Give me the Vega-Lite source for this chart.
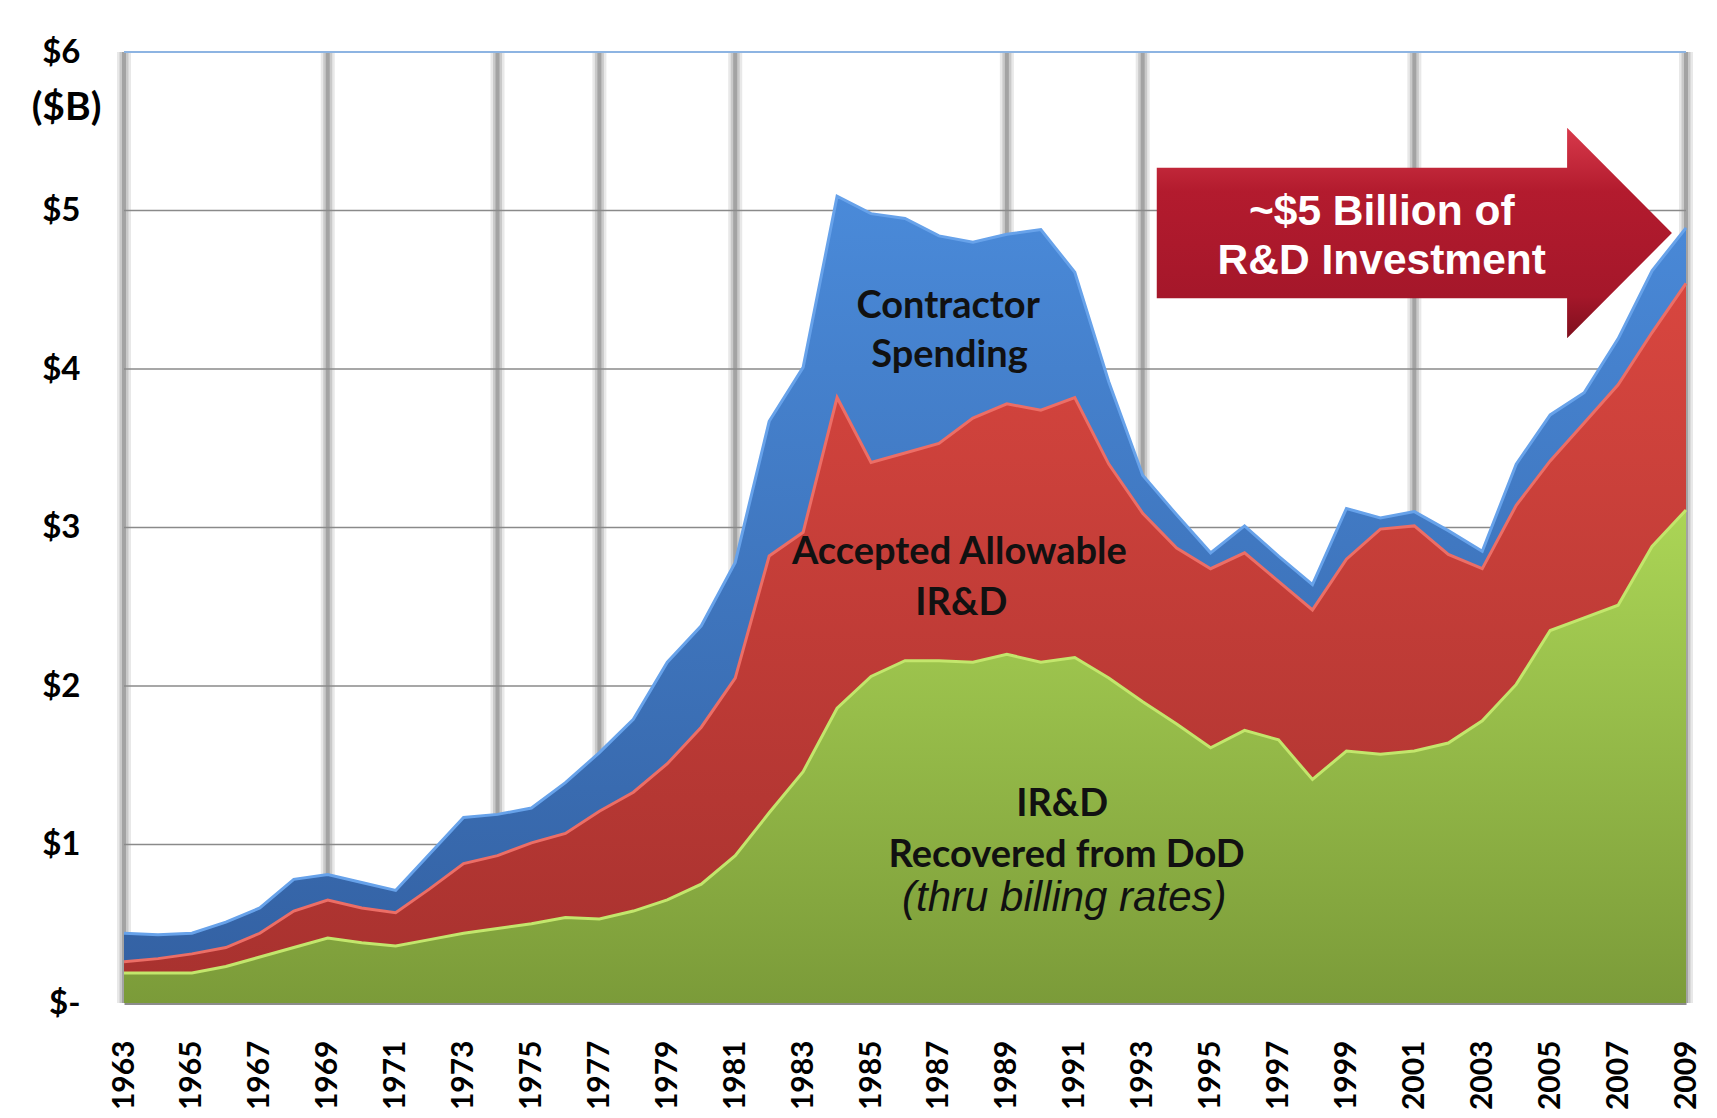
{
  "$schema": "https://vega.github.io/schema/vega-lite/v6.json",
  "width": 1562,
  "height": 951,
  "autosize": {"type": "none"},
  "padding": {"left": 124, "top": 52, "right": 31, "bottom": 115},
  "background": "white",
  "config": {
    "view": {"stroke": null},
    "font": "Lato",
    "axis": {"grid": false, "ticks": false, "labelColor": "black", "labelFont": "Lato", "labelFontWeight": "bold", "titleColor": "black"},
    "axisX": {"labelAngle": -90, "labelAlign": "right", "labelBaseline": "middle", "labelFontSize": 30, "labelPadding": 37, "domainColor": "#8c8c8c", "domainWidth": 3, "labelOverlap": false},
    "axisY": {"labelFontSize": 33, "labelPadding": 44, "domain": false}
  },
  "datasets": {
    "ird": [
      {"year":1963,"series":"IR&D Recovered from DoD","amount":0.19},{"year":1963,"series":"Accepted Allowable IR&D","amount":0.07},{"year":1963,"series":"Contractor Spending","amount":0.18},
      {"year":1964,"series":"IR&D Recovered from DoD","amount":0.19},{"year":1964,"series":"Accepted Allowable IR&D","amount":0.09},{"year":1964,"series":"Contractor Spending","amount":0.15},
      {"year":1965,"series":"IR&D Recovered from DoD","amount":0.19},{"year":1965,"series":"Accepted Allowable IR&D","amount":0.12},{"year":1965,"series":"Contractor Spending","amount":0.13},
      {"year":1966,"series":"IR&D Recovered from DoD","amount":0.23},{"year":1966,"series":"Accepted Allowable IR&D","amount":0.12},{"year":1966,"series":"Contractor Spending","amount":0.16},
      {"year":1967,"series":"IR&D Recovered from DoD","amount":0.29},{"year":1967,"series":"Accepted Allowable IR&D","amount":0.15},{"year":1967,"series":"Contractor Spending","amount":0.16},
      {"year":1968,"series":"IR&D Recovered from DoD","amount":0.35},{"year":1968,"series":"Accepted Allowable IR&D","amount":0.23},{"year":1968,"series":"Contractor Spending","amount":0.20},
      {"year":1969,"series":"IR&D Recovered from DoD","amount":0.41},{"year":1969,"series":"Accepted Allowable IR&D","amount":0.24},{"year":1969,"series":"Contractor Spending","amount":0.16},
      {"year":1970,"series":"IR&D Recovered from DoD","amount":0.38},{"year":1970,"series":"Accepted Allowable IR&D","amount":0.22},{"year":1970,"series":"Contractor Spending","amount":0.16},
      {"year":1971,"series":"IR&D Recovered from DoD","amount":0.36},{"year":1971,"series":"Accepted Allowable IR&D","amount":0.21},{"year":1971,"series":"Contractor Spending","amount":0.14},
      {"year":1972,"series":"IR&D Recovered from DoD","amount":0.40},{"year":1972,"series":"Accepted Allowable IR&D","amount":0.32},{"year":1972,"series":"Contractor Spending","amount":0.22},
      {"year":1973,"series":"IR&D Recovered from DoD","amount":0.44},{"year":1973,"series":"Accepted Allowable IR&D","amount":0.44},{"year":1973,"series":"Contractor Spending","amount":0.29},
      {"year":1974,"series":"IR&D Recovered from DoD","amount":0.47},{"year":1974,"series":"Accepted Allowable IR&D","amount":0.46},{"year":1974,"series":"Contractor Spending","amount":0.26},
      {"year":1975,"series":"IR&D Recovered from DoD","amount":0.50},{"year":1975,"series":"Accepted Allowable IR&D","amount":0.51},{"year":1975,"series":"Contractor Spending","amount":0.22},
      {"year":1976,"series":"IR&D Recovered from DoD","amount":0.54},{"year":1976,"series":"Accepted Allowable IR&D","amount":0.53},{"year":1976,"series":"Contractor Spending","amount":0.32},
      {"year":1977,"series":"IR&D Recovered from DoD","amount":0.53},{"year":1977,"series":"Accepted Allowable IR&D","amount":0.68},{"year":1977,"series":"Contractor Spending","amount":0.37},
      {"year":1978,"series":"IR&D Recovered from DoD","amount":0.58},{"year":1978,"series":"Accepted Allowable IR&D","amount":0.75},{"year":1978,"series":"Contractor Spending","amount":0.46},
      {"year":1979,"series":"IR&D Recovered from DoD","amount":0.65},{"year":1979,"series":"Accepted Allowable IR&D","amount":0.86},{"year":1979,"series":"Contractor Spending","amount":0.64},
      {"year":1980,"series":"IR&D Recovered from DoD","amount":0.75},{"year":1980,"series":"Accepted Allowable IR&D","amount":0.99},{"year":1980,"series":"Contractor Spending","amount":0.64},
      {"year":1981,"series":"IR&D Recovered from DoD","amount":0.93},{"year":1981,"series":"Accepted Allowable IR&D","amount":1.12},{"year":1981,"series":"Contractor Spending","amount":0.73},
      {"year":1982,"series":"IR&D Recovered from DoD","amount":1.20},{"year":1982,"series":"Accepted Allowable IR&D","amount":1.62},{"year":1982,"series":"Contractor Spending","amount":0.85},
      {"year":1983,"series":"IR&D Recovered from DoD","amount":1.46},{"year":1983,"series":"Accepted Allowable IR&D","amount":1.51},{"year":1983,"series":"Contractor Spending","amount":1.04},
      {"year":1984,"series":"IR&D Recovered from DoD","amount":1.86},{"year":1984,"series":"Accepted Allowable IR&D","amount":1.96},{"year":1984,"series":"Contractor Spending","amount":1.27},
      {"year":1985,"series":"IR&D Recovered from DoD","amount":2.06},{"year":1985,"series":"Accepted Allowable IR&D","amount":1.35},{"year":1985,"series":"Contractor Spending","amount":1.57},
      {"year":1986,"series":"IR&D Recovered from DoD","amount":2.16},{"year":1986,"series":"Accepted Allowable IR&D","amount":1.31},{"year":1986,"series":"Contractor Spending","amount":1.48},
      {"year":1987,"series":"IR&D Recovered from DoD","amount":2.16},{"year":1987,"series":"Accepted Allowable IR&D","amount":1.37},{"year":1987,"series":"Contractor Spending","amount":1.31},
      {"year":1988,"series":"IR&D Recovered from DoD","amount":2.15},{"year":1988,"series":"Accepted Allowable IR&D","amount":1.54},{"year":1988,"series":"Contractor Spending","amount":1.11},
      {"year":1989,"series":"IR&D Recovered from DoD","amount":2.20},{"year":1989,"series":"Accepted Allowable IR&D","amount":1.58},{"year":1989,"series":"Contractor Spending","amount":1.07},
      {"year":1990,"series":"IR&D Recovered from DoD","amount":2.15},{"year":1990,"series":"Accepted Allowable IR&D","amount":1.59},{"year":1990,"series":"Contractor Spending","amount":1.14},
      {"year":1991,"series":"IR&D Recovered from DoD","amount":2.18},{"year":1991,"series":"Accepted Allowable IR&D","amount":1.64},{"year":1991,"series":"Contractor Spending","amount":0.79},
      {"year":1992,"series":"IR&D Recovered from DoD","amount":2.05},{"year":1992,"series":"Accepted Allowable IR&D","amount":1.35},{"year":1992,"series":"Contractor Spending","amount":0.52},
      {"year":1993,"series":"IR&D Recovered from DoD","amount":1.90},{"year":1993,"series":"Accepted Allowable IR&D","amount":1.19},{"year":1993,"series":"Contractor Spending","amount":0.24},
      {"year":1994,"series":"IR&D Recovered from DoD","amount":1.76},{"year":1994,"series":"Accepted Allowable IR&D","amount":1.11},{"year":1994,"series":"Contractor Spending","amount":0.21},
      {"year":1995,"series":"IR&D Recovered from DoD","amount":1.61},{"year":1995,"series":"Accepted Allowable IR&D","amount":1.13},{"year":1995,"series":"Contractor Spending","amount":0.10},
      {"year":1996,"series":"IR&D Recovered from DoD","amount":1.72},{"year":1996,"series":"Accepted Allowable IR&D","amount":1.12},{"year":1996,"series":"Contractor Spending","amount":0.17},
      {"year":1997,"series":"IR&D Recovered from DoD","amount":1.66},{"year":1997,"series":"Accepted Allowable IR&D","amount":1.00},{"year":1997,"series":"Contractor Spending","amount":0.16},
      {"year":1998,"series":"IR&D Recovered from DoD","amount":1.41},{"year":1998,"series":"Accepted Allowable IR&D","amount":1.07},{"year":1998,"series":"Contractor Spending","amount":0.16},
      {"year":1999,"series":"IR&D Recovered from DoD","amount":1.59},{"year":1999,"series":"Accepted Allowable IR&D","amount":1.21},{"year":1999,"series":"Contractor Spending","amount":0.32},
      {"year":2000,"series":"IR&D Recovered from DoD","amount":1.57},{"year":2000,"series":"Accepted Allowable IR&D","amount":1.42},{"year":2000,"series":"Contractor Spending","amount":0.07},
      {"year":2001,"series":"IR&D Recovered from DoD","amount":1.59},{"year":2001,"series":"Accepted Allowable IR&D","amount":1.42},{"year":2001,"series":"Contractor Spending","amount":0.09},
      {"year":2002,"series":"IR&D Recovered from DoD","amount":1.64},{"year":2002,"series":"Accepted Allowable IR&D","amount":1.19},{"year":2002,"series":"Contractor Spending","amount":0.15},
      {"year":2003,"series":"IR&D Recovered from DoD","amount":1.78},{"year":2003,"series":"Accepted Allowable IR&D","amount":0.96},{"year":2003,"series":"Contractor Spending","amount":0.11},
      {"year":2004,"series":"IR&D Recovered from DoD","amount":2.01},{"year":2004,"series":"Accepted Allowable IR&D","amount":1.13},{"year":2004,"series":"Contractor Spending","amount":0.26},
      {"year":2005,"series":"IR&D Recovered from DoD","amount":2.35},{"year":2005,"series":"Accepted Allowable IR&D","amount":1.07},{"year":2005,"series":"Contractor Spending","amount":0.29},
      {"year":2006,"series":"IR&D Recovered from DoD","amount":2.43},{"year":2006,"series":"Accepted Allowable IR&D","amount":1.23},{"year":2006,"series":"Contractor Spending","amount":0.19},
      {"year":2007,"series":"IR&D Recovered from DoD","amount":2.51},{"year":2007,"series":"Accepted Allowable IR&D","amount":1.39},{"year":2007,"series":"Contractor Spending","amount":0.29},
      {"year":2008,"series":"IR&D Recovered from DoD","amount":2.88},{"year":2008,"series":"Accepted Allowable IR&D","amount":1.35},{"year":2008,"series":"Contractor Spending","amount":0.39},
      {"year":2009,"series":"IR&D Recovered from DoD","amount":3.11},{"year":2009,"series":"Accepted Allowable IR&D","amount":1.43},{"year":2009,"series":"Contractor Spending","amount":0.35}
    ],
    "bars": [{"year":1963},{"year":1969},{"year":1974},{"year":1977},{"year":1981},{"year":1989},{"year":1993},{"year":2001},{"year":2009}],
    "grid": [{"value":1},{"value":2},{"value":3},{"value":4},{"value":5}],
    "top": [{"value":6}],
    "areaLabels": [
      {"text":"Contractor","year":1987.27,"value":4.39},
      {"text":"Spending","year":1987.31,"value":4.08},
      {"text":"Accepted Allowable","year":1987.6,"value":2.84},
      {"text":"IR&D","year":1987.66,"value":2.52},
      {"text":"IR&D","year":1990.63,"value":1.25},
      {"text":"Recovered from DoD","year":1990.76,"value":0.93}
    ],
    "noteLabels": [{"text":"(thru billing rates)","year":1990.69,"value":0.66}],
    "arrow": [{"year":2001.0,"value":4.858}],
    "arrowLabels": [
      {"text":"~$5 Billion of","year":2000.04,"value":4.99},
      {"text":"R&D Investment","year":2000.04,"value":4.68}
    ]
  },
  "layer": [
    {
      "data": {"name": "bars"},
      "mark": {"type": "rule", "strokeWidth": 14, "color": "#e8e8e8"},
      "encoding": {
        "x": {"field": "year", "type": "quantitative", "scale": {"domain": [1963, 2009], "nice": false, "zero": false},
          "axis": {"values": [1963,1965,1967,1969,1971,1973,1975,1977,1979,1981,1983,1985,1987,1989,1991,1993,1995,1997,1999,2001,2003,2005,2007,2009],
            "format": "d", "title": null}}
      }
    },
    {
      "data": {"name": "bars"},
      "mark": {"type": "rule", "strokeWidth": 9, "color": "#c9c9c9"},
      "encoding": {"x": {"field": "year", "type": "quantitative", "scale": {"domain": [1963, 2009], "nice": false, "zero": false}}}
    },
    {
      "data": {"name": "bars"},
      "mark": {"type": "rule", "strokeWidth": 4, "color": "#a3a3a3"},
      "encoding": {"x": {"field": "year", "type": "quantitative", "scale": {"domain": [1963, 2009], "nice": false, "zero": false}}}
    },
    {
      "data": {"name": "grid"},
      "mark": {"type": "rule", "strokeWidth": 1.6, "color": "#8a8a8a"},
      "encoding": {"y": {"field": "value", "type": "quantitative", "scale": {"domain": [0, 6], "nice": false}}}
    },
    {
      "data": {"name": "top"},
      "mark": {"type": "rule", "strokeWidth": 2, "color": "#8db4e2"},
      "encoding": {"y": {"field": "value", "type": "quantitative", "scale": {"domain": [0, 6], "nice": false}}}
    },
    {
      "data": {"name": "ird"},
      "transform": [{"stack": "amount", "groupby": ["year"], "as": ["lo", "hi"]}, {"filter": "datum.series == 'IR&D Recovered from DoD'"}],
      "mark": {"type": "area", "fill": {"gradient": "linear", "x1": 0, "y1": 0, "x2": 0, "y2": 1, "stops": [{"offset": 0, "color": "#abd556"}, {"offset": 1, "color": "#7b9b39"}]}},
      "encoding": {
        "x": {"field": "year", "type": "quantitative", "scale": {"domain": [1963, 2009], "nice": false, "zero": false}},
        "y": {"field": "hi", "type": "quantitative", "scale": {"domain": [0, 6], "nice": false},
          "axis": {"values": [0,1,2,3,4,5,6], "labelExpr": "datum.value == 0 ? '$-' : '$' + datum.value",
            "title": "($B)", "titleAngle": 0, "titleFont": "Lato", "titleFontSize": 39, "titleFontWeight": "bold",
            "titleX": -58, "titleY": 55, "titleAlign": "center", "titleBaseline": "middle"}},
        "y2": {"field": "lo"}
      }
    },
    {
      "data": {"name": "ird"},
      "transform": [{"stack": "amount", "groupby": ["year"], "as": ["lo", "hi"]}, {"filter": "datum.series == 'Accepted Allowable IR&D'"}],
      "mark": {"type": "area", "fill": {"gradient": "linear", "x1": 0, "y1": 0, "x2": 0, "y2": 1, "stops": [{"offset": 0, "color": "#d8463f"}, {"offset": 1, "color": "#a9322f"}]}},
      "encoding": {
        "x": {"field": "year", "type": "quantitative", "scale": {"domain": [1963, 2009], "nice": false, "zero": false}},
        "y": {"field": "hi", "type": "quantitative", "scale": {"domain": [0, 6], "nice": false}},
        "y2": {"field": "lo"}
      }
    },
    {
      "data": {"name": "ird"},
      "transform": [{"stack": "amount", "groupby": ["year"], "as": ["lo", "hi"]}, {"filter": "datum.series == 'Contractor Spending'"}],
      "mark": {"type": "area", "fill": {"gradient": "linear", "x1": 0, "y1": 0, "x2": 0, "y2": 1, "stops": [{"offset": 0, "color": "#4a8ad9"}, {"offset": 1, "color": "#3462a4"}]}},
      "encoding": {
        "x": {"field": "year", "type": "quantitative", "scale": {"domain": [1963, 2009], "nice": false, "zero": false}},
        "y": {"field": "hi", "type": "quantitative", "scale": {"domain": [0, 6], "nice": false}},
        "y2": {"field": "lo"}
      }
    },
    {
      "data": {"name": "ird"},
      "transform": [{"stack": "amount", "groupby": ["year"], "as": ["lo", "hi"]}],
      "mark": {"type": "line", "strokeWidth": 3},
      "encoding": {
        "x": {"field": "year", "type": "quantitative", "scale": {"domain": [1963, 2009], "nice": false, "zero": false}},
        "y": {"field": "hi", "type": "quantitative", "scale": {"domain": [0, 6], "nice": false}},
        "color": {"field": "series", "type": "nominal", "legend": null,
          "scale": {"domain": ["IR&D Recovered from DoD", "Accepted Allowable IR&D", "Contractor Spending"], "range": ["#c3e66c", "#ec6e66", "#67a2ea"]}}
      }
    },
    {
      "data": {"name": "areaLabels"},
      "mark": {"type": "text", "font": "Lato", "fontWeight": "bold", "fontSize": 38, "color": "#111111", "align": "center", "baseline": "middle"},
      "encoding": {
        "x": {"field": "year", "type": "quantitative", "scale": {"domain": [1963, 2009], "nice": false, "zero": false}},
        "y": {"field": "value", "type": "quantitative", "scale": {"domain": [0, 6], "nice": false}},
        "text": {"field": "text"}
      }
    },
    {
      "data": {"name": "noteLabels"},
      "mark": {"type": "text", "font": "Liberation Sans", "fontStyle": "italic", "fontSize": 42, "color": "#111111", "align": "center", "baseline": "middle"},
      "encoding": {
        "x": {"field": "year", "type": "quantitative", "scale": {"domain": [1963, 2009], "nice": false, "zero": false}},
        "y": {"field": "value", "type": "quantitative", "scale": {"domain": [0, 6], "nice": false}},
        "text": {"field": "text"}
      }
    },
    {
      "data": {"name": "arrow"},
      "mark": {"type": "point", "shape": "M-1,-0.253L0.593,-0.253L0.593,-0.409L1,0L0.593,0.409L0.593,0.253L-1,0.253Z",
        "size": 265400, "filled": true, "opacity": 1, "fillOpacity": 1, "strokeWidth": 0,
        "fill": {"gradient": "linear", "x1": 0, "y1": 0, "x2": 0, "y2": 1, "stops": [{"offset": 0, "color": "#d83a4b"}, {"offset": 0.3, "color": "#b31b2e"}, {"offset": 0.8, "color": "#a5172a"}, {"offset": 1, "color": "#7e0f1d"}]}},
      "encoding": {
        "x": {"field": "year", "type": "quantitative", "scale": {"domain": [1963, 2009], "nice": false, "zero": false}},
        "y": {"field": "value", "type": "quantitative", "scale": {"domain": [0, 6], "nice": false}}
      }
    },
    {
      "data": {"name": "arrowLabels"},
      "mark": {"type": "text", "font": "Liberation Sans", "fontWeight": "bold", "fontSize": 42.5, "color": "white", "align": "center", "baseline": "middle"},
      "encoding": {
        "x": {"field": "year", "type": "quantitative", "scale": {"domain": [1963, 2009], "nice": false, "zero": false}},
        "y": {"field": "value", "type": "quantitative", "scale": {"domain": [0, 6], "nice": false}},
        "text": {"field": "text"}
      }
    }
  ]
}
